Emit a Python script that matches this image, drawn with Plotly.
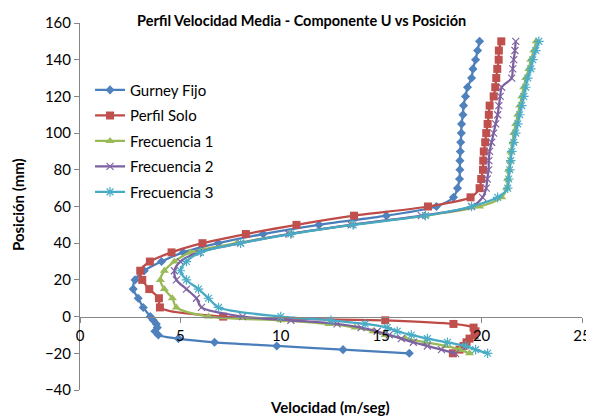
import plotly.graph_objects as go

positions = [150, 145, 140, 135, 130, 125, 120, 115, 110, 105, 100, 95, 90, 85, 80, 75, 70, 65,
             60, 55, 50, 45, 40, 35, 30, 25, 20, 15, 10, 5, 0, -2, -4, -6, -8, -10, -12, -14, -16, -18, -20]

gurney_fijo = [19.9, 19.8, 19.7, 19.57, 19.5, 19.3, 19.2, 19.1, 19.07, 19.0, 18.99, 18.96, 18.94, 18.92,
               18.92, 18.9, 18.8, 18.6, 17.75, 15.26, 11.9, 9.12, 6.88, 5.14, 4.06, 3.2, 2.74, 2.65, 2.9,
               3.15, 3.5, 3.65, 3.8, 3.85, 3.73, 3.9, 4.9, 6.7, 9.8, 13.1, 16.4]
perfil_solo = [20.98, 20.86, 20.85, 20.78, 20.73, 20.68, 20.6, 20.4, 20.36, 20.3, 20.23, 20.18, 20.11, 20.08,
               20.07, 19.98, 19.9, 19.45, 17.33, 13.65, 10.78, 8.26, 6.1, 4.56, 3.48, 3.0, 3.1, 3.45, 3.93,
               3.98, 7.13, 15.2, 18.6, 19.6, 19.7, 19.65, 19.4, 19.25, 19.1, 18.9, 18.57]
frecuencia_1 = [22.72, 22.6, 22.45, 22.35, 22.2, 22.1, 22.0, 21.9, 21.8, 21.7, 21.6, 21.55, 21.45, 21.42,
                21.35, 21.3, 21.25, 21.0, 19.9, 17.2, 13.5, 10.4, 7.8, 5.5, 4.7, 4.2, 4.0, 4.2, 4.6,
                4.8, 6.4, 10.0, 12.4, 13.7, 14.6, 15.2, 16.2, 17.2, 18.2, 18.9, 19.4]
frecuencia_2 = [21.7, 21.66, 21.6, 21.55, 21.5, 21.0, 20.93, 20.86, 20.8, 20.7, 20.6, 20.5, 20.4, 20.36,
                20.35, 20.28, 20.23, 20.05, 19.5, 17.0, 13.5, 10.4, 8.0, 5.9, 5.0, 4.7, 4.8, 5.3, 5.8,
                6.05, 8.1, 10.5, 12.8, 14.0, 14.8, 15.4, 16.0, 16.6, 17.3, 18.0, 18.7]
frecuencia_3 = [22.85, 22.7, 22.55, 22.45, 22.3, 22.2, 22.1, 22.0, 21.9, 21.8, 21.7, 21.6, 21.5, 21.45,
                21.4, 21.35, 21.3, 20.8, 19.5, 17.2, 13.6, 10.5, 8.0, 6.0, 5.3, 5.0, 5.3, 5.9, 6.4,
                6.9, 10.0, 12.5, 14.2, 15.3, 15.8, 16.5, 17.3, 18.3, 19.2, 19.7, 20.3]

series_names = ["Gurney Fijo", "Perfil Solo", "Frecuencia 1", "Frecuencia 2", "Frecuencia 3"]
series_values = [gurney_fijo, perfil_solo, frecuencia_1, frecuencia_2, frecuencia_3]

x_ticks = [0, 5, 10, 15, 20, 25]
y_ticks = [-40, -20, 0, 20, 40, 60, 80, 100, 120, 140, 160]

line_colors = ["#4A7EBB", "#BE4B48", "#98B954", "#7D60A0", "#46AAC5"]
marker_colors = ["#4F81BD", "#C0504D", "#9BBB59", "#8064A2", "#4BACC6"]
symbols = ["diamond", "square", "triangle-up", "x-thin-open", "asterisk-open"]
sizes = [7, 8, 8, 7, 8]

FONT = "Lato, 'Open Sans', sans-serif"

# page has an 8px body margin; figure is offset by it
W, H = 586, 408
L, R, T, B = 72, 12, 15, 26
PW = W - L - R
PH = H - T - B

fig = go.Figure()
for i, (name, vals) in enumerate(zip(series_names, series_values)):
    mk = dict(symbol=symbols[i], size=sizes[i], color=marker_colors[i])
    if symbols[i].endswith("open"):
        mk["line"] = dict(color=marker_colors[i], width=1.2)
    else:
        mk["line"] = dict(width=0)
    fig.add_trace(go.Scatter(
        x=vals, y=positions, name=name, mode="lines+markers",
        line=dict(color=line_colors[i], width=2.25, shape="spline", smoothing=0.8),
        marker=mk, legendgroup=name,
    ))

fig.update_layout(
    width=W, height=H,
    margin=dict(l=L, r=R, t=T, b=B, autoexpand=False),
    paper_bgcolor="white", plot_bgcolor="white",
    font=dict(family=FONT, size=14, color="black"),
    showlegend=True,
    legend=dict(x=0.02, y=0.862, xanchor="left", yanchor="top",
                bgcolor="rgba(0,0,0,0)", font=dict(size=15, family=FONT),
                tracegroupgap=3, itemwidth=30),
    xaxis=dict(range=[0, 25], tickvals=x_ticks, showgrid=False, zeroline=False,
               showline=True, linecolor="#868686", linewidth=1,
               ticks="outside", ticklen=5, tickcolor="#868686", automargin=False,
               ticklabeloverflow="allow",
               anchor="free", position=0.2, tickfont=dict(size=15)),
    yaxis=dict(range=[-40, 160], tickvals=y_ticks, showgrid=False, zeroline=False,
               showline=True, linecolor="#868686", linewidth=1,
               ticks="outside", ticklen=5, tickcolor="#868686", automargin=False,
               ticklabeloverflow="allow",
               tickfont=dict(size=15)),
    annotations=[
        dict(text="<b>Perfil Velocidad Media - Componente U vs Posición</b>",
             x=(301 - 80) / PW, y=1.008, xref="paper", yref="paper", showarrow=False,
             font=dict(size=14.5, family=FONT), xanchor="center", yanchor="middle"),
        dict(text="<b>Posición (mm)</b>", x=(18 - 80) / PW, y=0.504, xref="paper", yref="paper",
             showarrow=False, textangle=-90, font=dict(size=15, family=FONT),
             xanchor="center", yanchor="middle"),
        dict(text="<b>Velocidad (m/seg)</b>", x=(330 - 80) / PW, y=(390 - 407) / PH,
             xref="paper", yref="paper",
             showarrow=False, font=dict(size=15, family=FONT),
             xanchor="center", yanchor="middle"),
    ],
)

fig.write_html("out.html")
